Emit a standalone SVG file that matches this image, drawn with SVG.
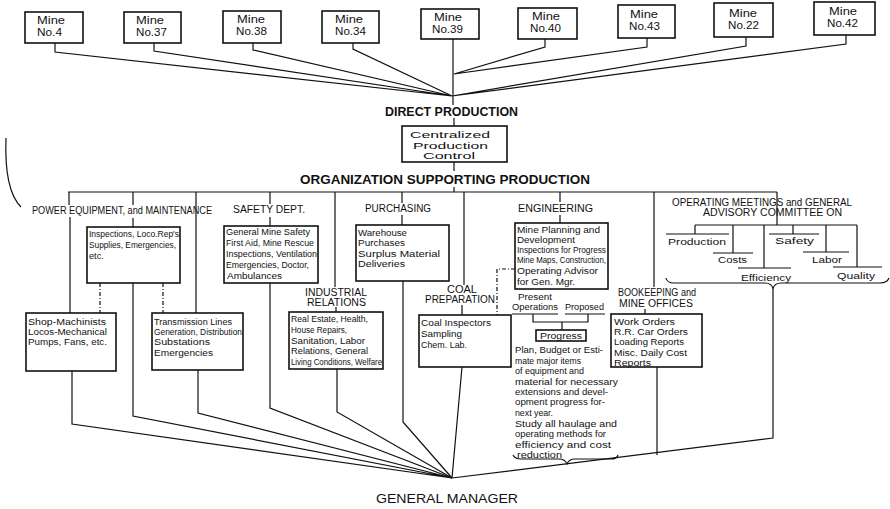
<svg xmlns="http://www.w3.org/2000/svg" width="890" height="509" viewBox="0 0 890 509">
<style>
.bx{fill:#fff;stroke:#111;stroke-width:1.6}
.ln{fill:none;stroke:#111;stroke-width:1.2}
.dd{fill:none;stroke:#111;stroke-width:1.2;stroke-dasharray:4 2 1 2}
text{font-family:"Liberation Sans","DejaVu Sans",sans-serif;fill:#111}
.m{font-size:10.5px}
.t{font-size:9.2px}
.s{font-size:9px}
.cap{font-size:10px}
.big{font-size:13px;font-weight:bold}
.gm{font-size:13.5px}
.cp{font-size:9.5px}
</style>
<rect width="890" height="509" fill="#fff"/>
<g id="connectors">
<path class="ln" d="M55,43V52L452,96M154,43V51L452,96M253,43V50L452,96M353,43V49L452,96M453,39V105M545,39V47L454,74M647,38V47L454,74M746,37V46L452,96M846,35V44L452,96"/>
<path class="ln" d="M454,118V126M454,162V171M454,187V192"/>
<path class="ln" d="M68,192H777"/>
<path class="ln" d="M69,192V205M70,217V313M133,192V205M133,218V227M133,283V416L452,478M196,192V313M72,371V424L452,478M198,370V413L452,478"/>
<path class="ln" d="M270,192V204M270,217V226M270,283V408L452,478"/>
<path class="ln" d="M335,192V287M336,307V312M337,369V412L452,478"/>
<path class="ln" d="M402,192V203M402,215V225M403,281V422L452,478"/>
<path class="ln" d="M464,192V285M462,305V315M462,367L452,478"/>
<path class="ln" d="M560,192V202M560,215V223"/>
<path class="ln" d="M654,192V287M645,309V314M657,367V455"/>
<path class="ln" d="M777,192V225M695,225H857M695,225V234M666,234H729M733,225V253M713,253H753M764,225V268M738,268H791M793,225V234M769,234H819M826,225V252M803,252H849M857,225V267M833,267H882"/>
<path class="ln" d="M666,278q1,5 8,5H765q7,0 8,6q1,-6 8,-6H880q7,0 9,-5M773,289V438L452,478"/>
<path class="dd" d="M100,283V313M163,283V313M515,269H497V315"/>
<path class="ln" d="M512,314H558M565,314H605M533,314V322H588V314M562,322V330"/>
<path class="ln" d="M513,455q2,4 8,4H559q6,0 8,5q2,-5 8,-5H611q6,0 7,-4"/>
<path class="ln" d="M6,138Q4,190 21,207"/>
</g>
<g id="mine-4"><rect class="bx" x="25" y="12" width="58" height="31"/><text class="m" x="37" y="24" textLength="28" lengthAdjust="spacingAndGlyphs">Mine</text><text class="m" x="37" y="36" textLength="25" lengthAdjust="spacingAndGlyphs">No.4</text></g>
<g id="mine-37"><rect class="bx" x="124" y="12" width="57" height="31"/><text class="m" x="136" y="24" textLength="28" lengthAdjust="spacingAndGlyphs">Mine</text><text class="m" x="136" y="36" textLength="31" lengthAdjust="spacingAndGlyphs">No.37</text></g>
<g id="mine-38"><rect class="bx" x="223" y="11" width="58" height="32"/><text class="m" x="237" y="23" textLength="28" lengthAdjust="spacingAndGlyphs">Mine</text><text class="m" x="236" y="35" textLength="31" lengthAdjust="spacingAndGlyphs">No.38</text></g>
<g id="mine-34"><rect class="bx" x="322" y="11" width="57" height="32"/><text class="m" x="335" y="23" textLength="28" lengthAdjust="spacingAndGlyphs">Mine</text><text class="m" x="335" y="35" textLength="31" lengthAdjust="spacingAndGlyphs">No.34</text></g>
<g id="mine-39"><rect class="bx" x="421" y="9" width="58" height="30"/><text class="m" x="434" y="21" textLength="28" lengthAdjust="spacingAndGlyphs">Mine</text><text class="m" x="432" y="33" textLength="31" lengthAdjust="spacingAndGlyphs">No.39</text></g>
<g id="mine-40"><rect class="bx" x="518" y="8" width="59" height="31"/><text class="m" x="532" y="20" textLength="28" lengthAdjust="spacingAndGlyphs">Mine</text><text class="m" x="530" y="32" textLength="31" lengthAdjust="spacingAndGlyphs">No.40</text></g>
<g id="mine-43"><rect class="bx" x="618" y="5" width="57" height="33"/><text class="m" x="630" y="18" textLength="28" lengthAdjust="spacingAndGlyphs">Mine</text><text class="m" x="629" y="30" textLength="31" lengthAdjust="spacingAndGlyphs">No.43</text></g>
<g id="mine-22"><rect class="bx" x="714" y="3" width="59" height="34"/><text class="m" x="729" y="17" textLength="28" lengthAdjust="spacingAndGlyphs">Mine</text><text class="m" x="728" y="29" textLength="31" lengthAdjust="spacingAndGlyphs">No.22</text></g>
<g id="mine-42"><rect class="bx" x="814" y="2" width="61" height="33"/><text class="m" x="829" y="15" textLength="28" lengthAdjust="spacingAndGlyphs">Mine</text><text class="m" x="827" y="27" textLength="31" lengthAdjust="spacingAndGlyphs">No.42</text></g>
<g id="direct-production"><text class="big" x="385" y="116" textLength="133" lengthAdjust="spacingAndGlyphs">DIRECT PRODUCTION</text></g>
<g id="centralized-control"><rect class="bx" x="402" y="126" width="105" height="36"/>
<text class="cp" x="410" y="138" textLength="80" lengthAdjust="spacingAndGlyphs">Centralized</text>
<text class="cp" x="413" y="149" textLength="75" lengthAdjust="spacingAndGlyphs">Production</text>
<text class="cp" x="423" y="159" textLength="52" lengthAdjust="spacingAndGlyphs">Control</text></g>
<g id="org-supporting"><text class="big" x="300" y="184" textLength="290" lengthAdjust="spacingAndGlyphs">ORGANIZATION SUPPORTING PRODUCTION</text></g>
<g id="power-equipment"><text class="cap" x="32" y="214" textLength="180" lengthAdjust="spacingAndGlyphs">POWER EQUIPMENT, and MAINTENANCE</text></g>
<g id="inspections"><rect class="bx" x="87" y="227" width="93" height="56"/>
<text class="s" x="89" y="237" textLength="90" lengthAdjust="spacingAndGlyphs">Inspections, Loco.Rep's</text>
<text class="s" x="89" y="248" textLength="87" lengthAdjust="spacingAndGlyphs">Supplies, Emergencies,</text>
<text class="t" x="89" y="259">etc.</text></g>
<g id="shop"><rect class="bx" x="26" y="313" width="90" height="58"/>
<text class="t" x="28" y="325" textLength="78" lengthAdjust="spacingAndGlyphs">Shop-Machinists</text>
<text class="t" x="28" y="335" textLength="79" lengthAdjust="spacingAndGlyphs">Locos-Mechanical</text>
<text class="t" x="28" y="345" textLength="79" lengthAdjust="spacingAndGlyphs">Pumps, Fans, etc.</text></g>
<g id="transmission"><rect class="bx" x="152" y="313" width="91" height="57"/>
<text class="t" x="154" y="325" textLength="78" lengthAdjust="spacingAndGlyphs">Transmission Lines</text>
<text class="s" x="154" y="335" textLength="88" lengthAdjust="spacingAndGlyphs">Generation, Distribution</text>
<text class="t" x="154" y="345" textLength="56" lengthAdjust="spacingAndGlyphs">Substations</text>
<text class="t" x="154" y="356" textLength="59" lengthAdjust="spacingAndGlyphs">Emergencies</text></g>
<g id="safety-dept"><text class="cap" x="233" y="213" textLength="72" lengthAdjust="spacingAndGlyphs">SAFETY DEPT.</text>
<rect class="bx" x="224" y="226" width="94" height="57"/>
<text class="s" x="226" y="235" textLength="84" lengthAdjust="spacingAndGlyphs">General Mine Safety</text>
<text class="s" x="226" y="246" textLength="88" lengthAdjust="spacingAndGlyphs">First Aid, Mine Rescue</text>
<text class="s" x="226" y="257" textLength="91" lengthAdjust="spacingAndGlyphs">Inspections, Ventilation</text>
<text class="s" x="226" y="268" textLength="83" lengthAdjust="spacingAndGlyphs">Emergencies, Doctor,</text>
<text class="t" x="227" y="279" textLength="55" lengthAdjust="spacingAndGlyphs">Ambulances</text></g>
<g id="industrial-relations"><text class="cap" x="305" y="296" textLength="62" lengthAdjust="spacingAndGlyphs">INDUSTRIAL</text>
<text class="cap" x="307" y="306" textLength="59" lengthAdjust="spacingAndGlyphs">RELATIONS</text>
<rect class="bx" x="289" y="312" width="94" height="57"/>
<text class="s" x="291" y="322" textLength="77" lengthAdjust="spacingAndGlyphs">Real Estate, Health,</text>
<text class="t" x="291" y="333" textLength="56" lengthAdjust="spacingAndGlyphs">House Repairs,</text>
<text class="s" x="291" y="344" textLength="74" lengthAdjust="spacingAndGlyphs">Sanitation, Labor</text>
<text class="s" x="291" y="354" textLength="77" lengthAdjust="spacingAndGlyphs">Relations, General</text>
<text class="s" x="291" y="365" textLength="91" lengthAdjust="spacingAndGlyphs">Living Conditions, Welfare</text></g>
<g id="purchasing"><text class="cap" x="365" y="212" textLength="66" lengthAdjust="spacingAndGlyphs">PURCHASING</text>
<rect class="bx" x="356" y="225" width="93" height="56"/>
<text class="t" x="358" y="236" textLength="49" lengthAdjust="spacingAndGlyphs">Warehouse</text>
<text class="t" x="358" y="246" textLength="47" lengthAdjust="spacingAndGlyphs">Purchases</text>
<text class="t" x="358" y="257" textLength="82" lengthAdjust="spacingAndGlyphs">Surplus Material</text>
<text class="t" x="358" y="267" textLength="47" lengthAdjust="spacingAndGlyphs">Deliveries</text></g>
<g id="coal-preparation"><text class="cap" x="447" y="293" textLength="30" lengthAdjust="spacingAndGlyphs">COAL</text>
<text class="cap" x="425" y="303" textLength="70" lengthAdjust="spacingAndGlyphs">PREPARATION</text>
<rect class="bx" x="419" y="315" width="92" height="52"/>
<text class="t" x="421" y="326" textLength="70" lengthAdjust="spacingAndGlyphs">Coal Inspectors</text>
<text class="t" x="421" y="337" textLength="41" lengthAdjust="spacingAndGlyphs">Sampling</text>
<text class="t" x="421" y="348" textLength="46" lengthAdjust="spacingAndGlyphs">Chem. Lab.</text></g>
<g id="engineering"><text class="cap" x="518" y="212" textLength="75" lengthAdjust="spacingAndGlyphs">ENGINEERING</text>
<rect class="bx" x="515" y="223" width="93" height="66"/>
<text class="t" x="517" y="233" textLength="83" lengthAdjust="spacingAndGlyphs">Mine Planning and</text>
<text class="t" x="517" y="243" textLength="58" lengthAdjust="spacingAndGlyphs">Development</text>
<text class="s" x="517" y="253" textLength="89" lengthAdjust="spacingAndGlyphs">Inspections for Progress</text>
<text class="s" x="517" y="263" textLength="89" lengthAdjust="spacingAndGlyphs">Mine Maps, Construction,</text>
<text class="t" x="517" y="274" textLength="81" lengthAdjust="spacingAndGlyphs">Operating Advisor</text>
<text class="t" x="517" y="285" textLength="58" lengthAdjust="spacingAndGlyphs">for Gen. Mgr.</text></g>
<g id="present-operations"><text class="t" x="518" y="300" textLength="34" lengthAdjust="spacingAndGlyphs">Present</text>
<text class="t" x="512" y="310" textLength="46" lengthAdjust="spacingAndGlyphs">Operations</text></g>
<g id="proposed"><text class="t" x="565" y="310" textLength="39" lengthAdjust="spacingAndGlyphs">Proposed</text></g>
<g id="progress"><rect class="bx" x="536" y="330" width="50" height="11"/>
<text class="t" x="540" y="339" textLength="42" lengthAdjust="spacingAndGlyphs">Progress</text>
<text class="s" x="515" y="353" textLength="88" lengthAdjust="spacingAndGlyphs">Plan, Budget or Esti-</text>
<text class="s" x="515" y="364" textLength="66" lengthAdjust="spacingAndGlyphs">mate major items</text>
<text class="s" x="515" y="374" textLength="69" lengthAdjust="spacingAndGlyphs">of equipment and</text>
<text class="s" x="515" y="385" textLength="103" lengthAdjust="spacingAndGlyphs">material for necessary</text>
<text class="s" x="515" y="395" textLength="93" lengthAdjust="spacingAndGlyphs">extensions and devel-</text>
<text class="s" x="515" y="405" textLength="90" lengthAdjust="spacingAndGlyphs">opment progress for-</text>
<text class="s" x="515" y="416" textLength="38" lengthAdjust="spacingAndGlyphs">next year.</text>
<text class="s" x="515" y="427" textLength="102" lengthAdjust="spacingAndGlyphs">Study all haulage and</text>
<text class="s" x="515" y="437" textLength="91" lengthAdjust="spacingAndGlyphs">operating methods for</text>
<text class="s" x="515" y="448" textLength="96" lengthAdjust="spacingAndGlyphs">efficiency and cost</text>
<text class="s" x="517" y="458" textLength="45" lengthAdjust="spacingAndGlyphs">reduction</text></g>
<g id="bookkeeping"><text class="cap" x="618" y="296" textLength="78" lengthAdjust="spacingAndGlyphs">BOOKEEPING and</text>
<text class="cap" x="619" y="307" textLength="74" lengthAdjust="spacingAndGlyphs">MINE OFFICES</text>
<rect class="bx" x="611" y="314" width="91" height="53"/>
<text class="t" x="614" y="325" textLength="61" lengthAdjust="spacingAndGlyphs">Work Orders</text>
<text class="t" x="614" y="335" textLength="74" lengthAdjust="spacingAndGlyphs">R.R. Car Orders</text>
<text class="t" x="614" y="345" textLength="70" lengthAdjust="spacingAndGlyphs">Loading Reports</text>
<text class="t" x="614" y="356" textLength="73" lengthAdjust="spacingAndGlyphs">Misc. Daily Cost</text>
<text class="t" x="614" y="366" textLength="37" lengthAdjust="spacingAndGlyphs">Reports</text></g>
<g id="committee"><text class="cap" x="672" y="206" textLength="180" lengthAdjust="spacingAndGlyphs">OPERATING MEETINGS and GENERAL</text>
<text class="cap" x="703" y="216" textLength="139" lengthAdjust="spacingAndGlyphs">ADVISORY COMMITTEE ON</text>
<text class="t" x="668" y="245" textLength="58" lengthAdjust="spacingAndGlyphs">Production</text>
<text class="t" x="718" y="263" textLength="29" lengthAdjust="spacingAndGlyphs">Costs</text>
<text class="t" x="741" y="281" textLength="50" lengthAdjust="spacingAndGlyphs">Efficiency</text>
<text class="t" x="775" y="244" textLength="39" lengthAdjust="spacingAndGlyphs">Safety</text>
<text class="t" x="812" y="263" textLength="30" lengthAdjust="spacingAndGlyphs">Labor</text>
<text class="t" x="837" y="279" textLength="38" lengthAdjust="spacingAndGlyphs">Quality</text></g>
<g id="general-manager"><text class="gm" x="376" y="503" textLength="142" lengthAdjust="spacingAndGlyphs">GENERAL MANAGER</text></g>
</svg>
